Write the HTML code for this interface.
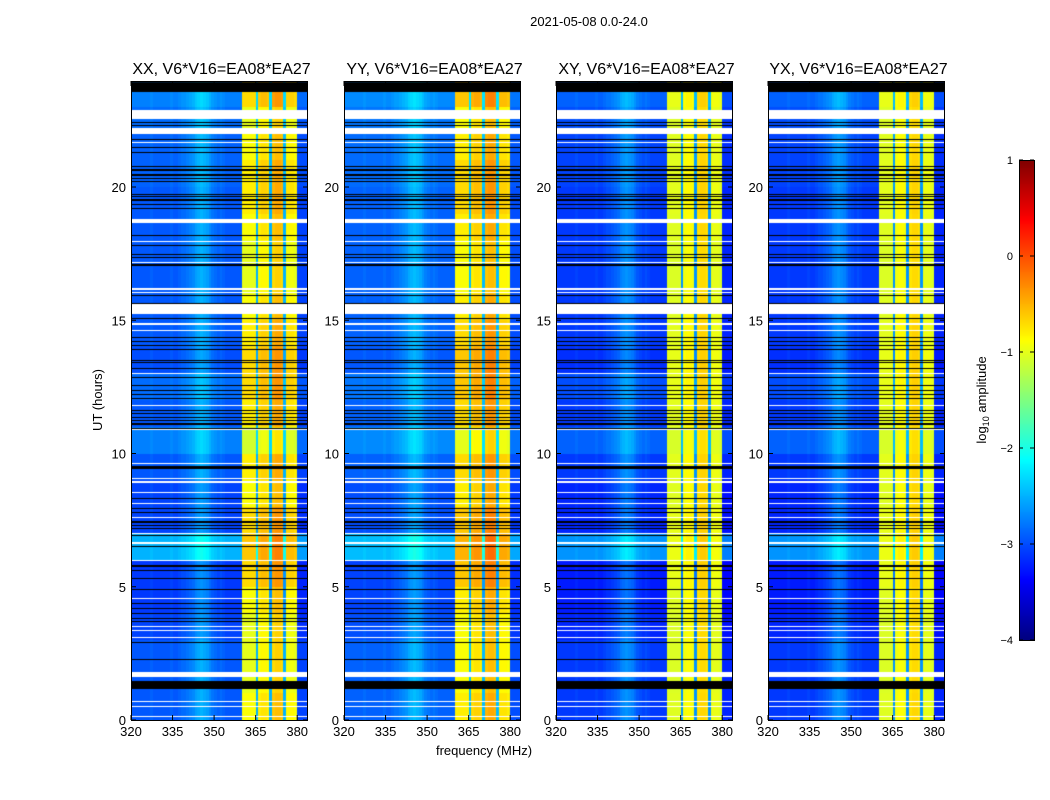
<!DOCTYPE html>
<html><head><meta charset="utf-8"><style>
body{margin:0;background:#fff;width:1050px;height:800px;position:relative;overflow:hidden;font-family:"Liberation Sans",sans-serif}
canvas{position:absolute}
svg{position:absolute;left:0;top:0}
</style></head><body>
<canvas id="c0" width="177" height="639" style="left:131px;top:81px"></canvas>
<canvas id="c1" width="176" height="639" style="left:344px;top:81px"></canvas>
<canvas id="c2" width="177" height="639" style="left:556px;top:81px"></canvas>
<canvas id="c3" width="177" height="639" style="left:768px;top:81px"></canvas>
<canvas id="cb" width="15" height="480" style="left:1019px;top:160px"></canvas>
<svg id="ov" width="1050" height="800"></svg>
<script>
// ---- data ----
const polarizations = ["XX","YY","XY","YX"];
const freqStart = 320; // MHz, 1 MHz channels
const chanLevel = [-2.95,-2.95,-2.95,-2.95,-2.95,-2.95,-2.95,-2.9,-2.95,-2.95,-2.95,-2.95,-2.95,-2.95,-2.9,-2.95,-2.95,-2.9,-2.85,-2.85,
 -2.8,-2.75,-2.7,-2.6,-2.55,-2.5,-2.55,-2.6,-2.7,-2.8,-2.85,-2.9,-2.85,-2.9,-2.95,-2.95,-2.95,-2.95,-2.95,-2.95,
 -1.0,-1.0,-1.0,-1.0,-1.0,-2.5,-0.9,-0.85,-0.85,-0.9,-2.5,-0.7,-0.65,-0.65,-0.7,-2.5,-0.95,-0.95,-0.95,-1.0,
 -3.05,-3.05,-3.05,-3.05];
const timeLevel = [0,0,0,-0.1,-0.15,-0.15,0.45,-0.1,-0.1,0,0.2,0,0.1,-0.05,0,0,0,0,0,0,0.05,0.05,0.1,0.2];
const bandBoost = [0.1,0,0,0,0.1,0.3,0.4,0.3,0.1,0.2,-0.1,0.2,0.3,0.3,0.2,0.1,0,0,0.1,0.2,0.2,0.1,0,0.3];
const polBgOffset = [0,0.05,-0.15,-0.15];
const polBandOffset = [0,0.1,-0.05,-0.05];
const polBoostScale = [1,1,0.2,0.2];
const whiteFlags = [[22.56,22.9],[22.0,22.2],[18.65,18.8],[15.25,15.6],[1.6,1.8]];
const blackFlags = [[23.55,23.95],[1.16,1.46],[9.42,9.52],[5.75,5.81]];
const blackLines = [21.79,21.47,21.29,20.76,20.64,20.45,20.31,20.20,19.73,19.64,19.51,19.35,19.19,18.19,17.79,17.48,17.35,17.07,15.92,15.64,15.07,14.36,14.21,14.04,13.90,13.48,13.40,13.20,12.86,12.55,12.36,12.20,12.05,11.61,11.49,11.36,11.24,11.11,10.95,8.30,7.93,7.80,7.43,7.30,7.18,6.93,6.52,5.62,5.31,4.89,4.37,4.19,4.00,3.82,3.69,2.90,2.27,22.41,22.31];
const whiteLines = [21.66,17.94,17.16,16.17,16.04,14.86,14.61,13.01,11.80,10.92,9.64,9.05,8.93,8.55,8.11,7.61,6.99,6.64,5.99,4.56,3.52,3.37,3.10,0.69,0.50,0.12];
const xTicks = [320,335,350,365,380];
const yTicks = [0,5,10,15,20];
const cbTicks = [1,0,-1,-2,-3,-4];
const titles = ["XX, V6*V16=EA08*EA27","YY, V6*V16=EA08*EA27","XY, V6*V16=EA08*EA27","YX, V6*V16=EA08*EA27"];
const panelLefts = [131,344,556,768];
// ---- scales ----
const PW=177, PT=81, PB=720, pxPerMHz=2.77, pxPerHour=26.65;
const xScale=(f,left)=>left+(f-freqStart)*pxPerMHz;
const yScale=t=>PB-t*pxPerHour;
const vmin=-4,vmax=1;
function jet(v){let x=(v-vmin)/(vmax-vmin);x=Math.max(0,Math.min(1,x));
 const c=a=>Math.round(255*Math.max(0,Math.min(1,1.5-Math.abs(4*x-a))));return [c(3),c(2),c(1)];}
function isBand(ch){return ch>=40&&ch<60&&chanLevel[ch]>-2;}
// ---- heatmaps ----
polarizations.forEach((p,pi)=>{
 const cv=document.getElementById('c'+pi),ctx=cv.getContext('2d');
 const W=cv.width,H=cv.height,img=ctx.createImageData(W,H);
 for(let yy=0;yy<H;yy++){
  const t=(PB-(PT+yy+0.5))/pxPerHour; const hr=Math.max(0,Math.min(23,Math.floor(t)));
  let flag=null;
  for(const w of whiteFlags) if(t>=w[0]&&t<=w[1]) flag=[255,255,255];
  for(const b of blackFlags) if(t>=b[0]&&t<=b[1]) flag=[0,0,0];
  for(const l of whiteLines) if(Math.abs(t-l)<0.022) flag=[255,255,255];
  for(const l of blackLines) if(Math.abs(t-l)<0.022) flag=[0,0,0];
  for(let xx=0;xx<W;xx++){
   const f=freqStart+(xx+0.5)/pxPerMHz; const ch=Math.max(0,Math.min(chanLevel.length-1,Math.floor(f-freqStart)));
   let col=flag;
   if(!col){let v=chanLevel[ch];
    if(isBand(ch)) v+=polBandOffset[pi]+bandBoost[hr]*polBoostScale[pi];
    else v+=polBgOffset[pi]+timeLevel[hr];
    col=jet(v);}
   const i=(yy*W+xx)*4;img.data[i]=col[0];img.data[i+1]=col[1];img.data[i+2]=col[2];img.data[i+3]=255;}
 }
 ctx.putImageData(img,0,0);
});
// colorbar
(function(){const cv=document.getElementById('cb'),ctx=cv.getContext('2d');
 for(let y=0;y<cv.height;y++){const v=vmax-(y+0.5)/cv.height*(vmax-vmin);const c=jet(v);
  ctx.fillStyle=`rgb(${c[0]},${c[1]},${c[2]})`;ctx.fillRect(0,y,cv.width,1);}})();
// ---- overlay ----
const NS='http://www.w3.org/2000/svg',svg=document.getElementById('ov');
function el(tag,attrs,parent){const e=document.createElementNS(NS,tag);for(const k in attrs)e.setAttribute(k,attrs[k]);(parent||svg).appendChild(e);return e;}
function txt(s,attrs){const e=el('text',Object.assign({'font-family':'Liberation Sans, sans-serif',fill:'#000'},attrs));e.textContent=s;return e;}
const t0=txt("2021-05-08 0.0-24.0",{x:589,y:26,'font-size':13,'text-anchor':'middle'});


panelLefts.forEach((L,pi)=>{
 const g=el('g',{});
 
 
 const R=L+PW;
 const fr=el('rect',{x:L+0.5,y:PT+0.5,width:PW-1,height:PB-PT,fill:'none',stroke:'#000','stroke-width':1},g);
 
 
 const tt=txt(titles[pi],{x:L+PW/2+2,y:74,'font-size':16,'text-anchor':'middle'});
 
 
 xTicks.forEach(f=>{const x=xScale(f,L);
  el('line',{x1:x,x2:x,y1:PB,y2:PB-5,stroke:'#000'},g);el('line',{x1:x,x2:x,y1:PT,y2:PT+5,stroke:'#000'},g);
  const lb=txt(String(f),{x:x,y:PB+16,'font-size':13,'text-anchor':'middle'});
  
  });
 yTicks.forEach(t=>{const y=yScale(t);
  el('line',{x1:L,x2:L+5,y1:y,y2:y,stroke:'#000'},g);el('line',{x1:R,x2:R-5,y1:y,y2:y,stroke:'#000'},g);
  const lb=txt(String(t),{x:L-5,y:y+5,'font-size':13,'text-anchor':'end'});
  
  });
});
const xl=txt("frequency (MHz)",{x:484,y:755,'font-size':13,'text-anchor':'middle'});


const yl=txt("UT (hours)",{x:0,y:0,'font-size':13,'text-anchor':'middle',transform:'translate(102,400) rotate(-90)'});


const cbf=el('rect',{x:1019.5,y:160.5,width:15,height:480,fill:'none',stroke:'#000'});


cbTicks.forEach(v=>{const y=160+(vmax-v)/(vmax-vmin)*480;
 el('line',{x1:1019,x2:1023,y1:y,y2:y,stroke:'#000'});el('line',{x1:1034,x2:1030,y1:y,y2:y,stroke:'#000'});
 const lb=txt(v<0?'\u2212'+(-v):String(v),{x:1013,y:y+4,'font-size':11,'text-anchor':'end'});
 
 });
const cl=el('text',{'font-family':'Liberation Sans, sans-serif','font-size':13,'text-anchor':'middle',transform:'translate(986,400) rotate(-90)'});
cl.innerHTML='log<tspan font-size="9" dy="3">10</tspan><tspan dy="-3"> amplitude</tspan>';


</script>
</body></html>
